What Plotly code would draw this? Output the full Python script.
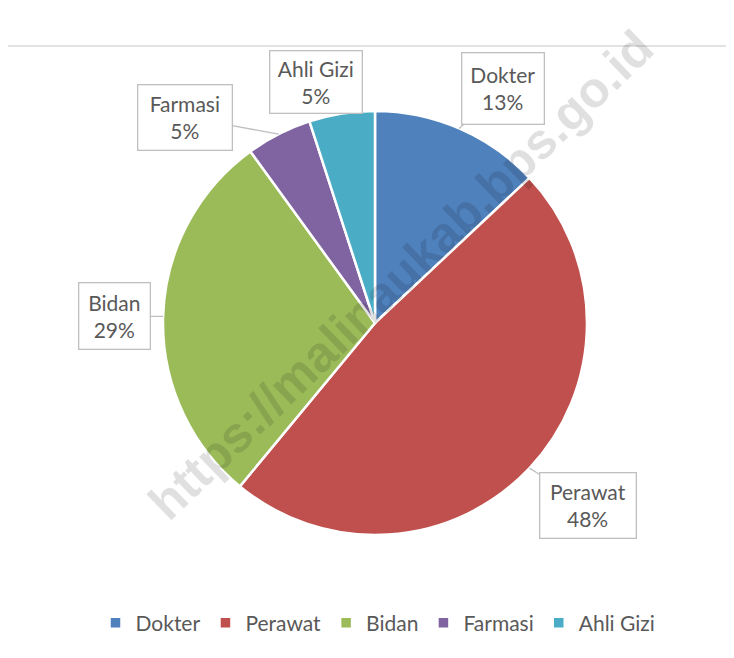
import math
import plotly.graph_objects as go

categories = ["Dokter", "Perawat", "Bidan", "Farmasi", "Ahli Gizi"]
values = [13, 48, 29, 5, 5]
colors = ["#4F81BD", "#C0504D", "#9BBB59", "#8064A2", "#4BACC6"]

W, H = 734, 658
OFF = 8  # page body margin


def px2x(px):
    return (px - OFF) / W


def py2y(py):
    return 1 - (py - OFF) / H


# pie geometry in page pixels
cx, cy, r = 375, 323, 212
dom_x = [px2x(cx - r), px2x(cx + r)]
dom_y = [py2y(cy + r), py2y(cy - r)]

FONT = "Lato, 'Open Sans', sans-serif"
TXT = "#595959"

fig = go.Figure()
fig.add_trace(go.Pie(
    labels=categories, values=values, sort=False, direction="clockwise",
    rotation=0, marker=dict(colors=colors, line=dict(color="white", width=2.5)),
    textinfo="none", hoverinfo="label+percent", domain=dict(x=dom_x, y=dom_y),
))

# callout boxes: (box center offset from slice rim point in px, box width, box height)
box_layout = {
    "Dokter": (44, -40, 83, 72),
    "Perawat": (58, 37, 97, 66),
    "Bidan": (-49, 0, 72, 67),
    "Farmasi": (-94, -17, 95, 66),
    "Ahli Gizi": (-26, -32, 93, 63),
}
total = sum(values)
cum = 0
annotations = []
for cat, v in zip(categories, values):
    mid = (cum + v / 2) / total * 2 * math.pi
    cum += v
    px = cx + r * math.sin(mid)
    py = cy - r * math.cos(mid)
    ax, ay, bw, bh = box_layout[cat]
    pct = round(v / total * 100)
    annotations.append(dict(
        x=px2x(px), y=py2y(py), xref="paper", yref="paper",
        text=f"{cat}<br>{pct}%", showarrow=True, arrowhead=0, arrowwidth=1.3,
        arrowcolor="#BFBFBF", ax=ax, ay=ay, width=bw - 2, height=bh - 2,
        borderpad=0, bordercolor="#BFBFBF", borderwidth=1.3, bgcolor="white",
        font=dict(family=FONT, size=21, color=TXT), align="center",
    ))

# watermark
annotations.append(dict(
    x=px2x(401), y=py2y(275), xref="paper", yref="paper", showarrow=False,
    text="https://malinaukab.bps.go.id", textangle=-44,
    font=dict(family="Liberation Sans, Arial, sans-serif", size=50,
              color="rgba(0,0,0,0.12)", weight="bold"),
))

fig.update_layout(
    width=W, height=H, margin=dict(l=0, r=0, t=0, b=0),
    paper_bgcolor="white", plot_bgcolor="white",
    annotations=annotations,
    shapes=[dict(type="line", xref="paper", yref="paper", x0=px2x(6), x1=1,
                 y0=py2y(46), y1=py2y(46), line=dict(color="#D9D9D9", width=1.5))],
    showlegend=True,
    legend=dict(orientation="h", x=px2x(378), xanchor="center", y=py2y(623), yanchor="middle",
                font=dict(family=FONT, size=21, color=TXT), traceorder="normal"),
)

fig.write_html("out.html")
